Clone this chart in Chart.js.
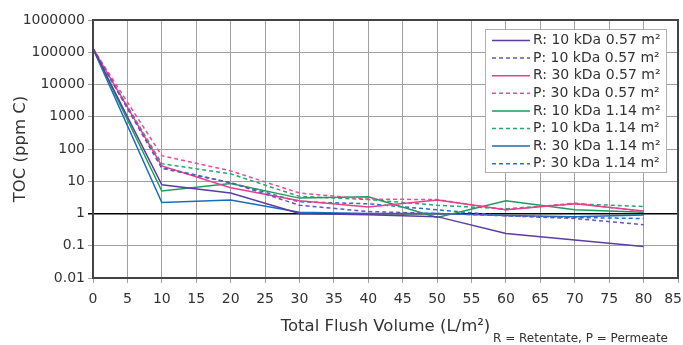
<!DOCTYPE html>
<html>
<head>
<meta charset="utf-8">
<script src="https://cdn.jsdelivr.net/npm/chart.js@4"></script>
<style>
  body { margin: 0; background: #fff; }
  #wrap { width: 683px; height: 345px; }
</style>
</head>
<body>
<div id="wrap"><canvas id="toc-chart"></canvas></div>
<script>
// flush volume (L/m2)
var flushVolume = [0, 10, 20, 30, 40, 50, 60, 70, 80];

// TOC (ppm C) per series
var r10k057 = [130000, 7.8, 4.3, 1.0, 0.92, 0.8, 0.24, 0.15, 0.095];
var p10k057 = [130000, 25, 9, 1.8, 1.15, 1.0, 0.85, 0.7, 0.45];
var r30k057 = [130000, 30, 6.3, 2.5, 1.6, 2.6, 1.3, 2.0, 1.2];
var p30k057 = [130000, 62, 21, 4.3, 2.8, 2.7, 1.3, 2.1, 1.15];
var r10k114 = [130000, 5, 8.5, 3.0, 3.3, 0.75, 2.5, 1.3, 1.1];
var p10k114 = [130000, 35, 17, 3.4, 2.7, 1.8, 1.4, 2.0, 1.65];
var r30k114 = [130000, 2.2, 2.6, 1.1, 1.0, 1.0, 0.87, 0.8, 0.9];
var p30k114 = [130000, 27, 9, 2.3, 2.0, 1.3, 0.85, 0.75, 0.7];

var seriesLabels = [
    'R: 10 kDa 0.57 m²', 'P: 10 kDa 0.57 m²',
    'R: 30 kDa 0.57 m²', 'P: 30 kDa 0.57 m²',
    'R: 10 kDa 1.14 m²', 'P: 10 kDa 1.14 m²',
    'R: 30 kDa 1.14 m²', 'P: 30 kDa 1.14 m²'
];
var yTicks = [0.01, 0.1, 1, 10, 100, 1000, 10000, 100000, 1000000];
var xMax = 85;
var footNote = 'R = Retentate, P = Permeate';

var seriesData = [r10k057, p10k057, r30k057, p30k057, r10k114, p10k114, r30k114, p30k114];
var seriesColors = ['#5a3da6', '#6a52bd', '#e6408c', '#f04a9e', '#1e9a60', '#26a872', '#1b6dbb', '#2a6fc2'];

var FONT = '"DejaVu Sans", Verdana, sans-serif';

var datasets = seriesData.map(function (vals, i) {
    return {
        label: seriesLabels[i],
        data: vals.map(function (v, j) { return { x: flushVolume[j], y: v }; }),
        borderColor: seriesColors[i],
        backgroundColor: seriesColors[i],
        borderWidth: 1.5,
        borderDash: i % 2 === 1 ? [4, 3] : [],
        pointRadius: 0,
        tension: 0,
        fill: false
    };
});

// legend box inside the plot, footnote, frame, last x label pushed inside the canvas
var extras = {
    id: 'extras',
    afterDraw: function (chart) {
        var ctx = chart.ctx;
        var a = chart.chartArea;
        ctx.save();
        // frame
        ctx.strokeStyle = '#444';
        ctx.lineWidth = 2;
        ctx.strokeRect(a.left, a.top, a.right - a.left, a.bottom - a.top);

        // last x tick label
        ctx.font = '14px ' + FONT;
        ctx.fillStyle = '#333';
        ctx.textAlign = 'right';
        ctx.textBaseline = 'middle';
        ctx.fillText(String(xMax), 682, 299.5);

        // legend
        var bx = 485, by = 29, bw = 181, bh = 143;
        ctx.fillStyle = '#fff';
        ctx.fillRect(bx, by, bw, bh);
        ctx.strokeStyle = '#b0b0b0';
        ctx.lineWidth = 1;
        ctx.strokeRect(bx + 0.5, by + 0.5, bw, bh);
        ctx.textAlign = 'left';
        chart.data.datasets.forEach(function (ds, i) {
            var y = 40.5 + i * 17.6;
            ctx.strokeStyle = ds.borderColor;
            ctx.lineWidth = 1.5;
            ctx.setLineDash(ds.borderDash);
            ctx.beginPath();
            ctx.moveTo(492, y);
            ctx.lineTo(530, y);
            ctx.stroke();
            ctx.setLineDash([]);
            ctx.fillStyle = '#333';
            ctx.fillText(ds.label, 533, y);
        });

        // footnote
        ctx.font = '12px ' + FONT;
        ctx.fillStyle = '#333';
        ctx.textAlign = 'right';
        ctx.fillText(footNote, 668, 339);
        ctx.restore();
    }
};

var ctx = document.getElementById('toc-chart').getContext('2d');
var tocChart = new Chart(ctx, {
    type: 'line',
    data: { datasets: datasets },
    options: {
        responsive: true,
        maintainAspectRatio: false,
        animation: false,
        layout: { padding: { top: 20, right: 5, left: 0, bottom: 0 } },
        plugins: {
            legend: { display: false },
            tooltip: { enabled: false }
        },
        scales: {
            x: {
                type: 'linear',
                min: 0,
                max: xMax,
                afterFit: function (scale) {
                    scale.height = 67;
                    scale.paddingRight = 0;
                    scale.paddingLeft = 0;
                },
                ticks: {
                    stepSize: 5,
                    color: '#333',
                    padding: 8,
                    maxRotation: 0,
                    font: { family: FONT, size: 14 },
                    callback: function (v) { return v === xMax ? '' : String(v); }
                },
                grid: { color: '#a0a0a0', tickLength: 5 },
                border: { color: '#222', width: 2 },
                title: {
                    display: true,
                    text: 'Total Flush Volume (L/m²)',
                    color: '#333',
                    font: { family: FONT, size: 16.5 },
                    padding: { top: 4, bottom: 8 }
                }
            },
            y: {
                type: 'logarithmic',
                min: 0.01,
                max: 1000000,
                afterFit: function (scale) { scale.width = 93; },
                afterBuildTicks: function (scale) {
                    scale.ticks = yTicks.map(function (v) { return { value: v }; });
                },
                ticks: {
                    color: '#333',
                    padding: 3,
                    font: { family: FONT, size: 14 },
                    callback: function (v) { return String(v); }
                },
                grid: {
                    tickLength: 5,
                    color: function (c) { return c.tick && c.tick.value === 1 ? '#000' : '#a0a0a0'; },
                    lineWidth: function (c) { return c.tick && c.tick.value === 1 ? 1.5 : 1; }
                },
                border: { color: '#222', width: 2 },
                title: {
                    display: true,
                    text: 'TOC (ppm C)',
                    color: '#333',
                    font: { family: FONT, size: 16.5 },
                    padding: { top: 11, bottom: 0 }
                }
            }
        }
    },
    plugins: [extras]
});
</script>
</body>
</html>
